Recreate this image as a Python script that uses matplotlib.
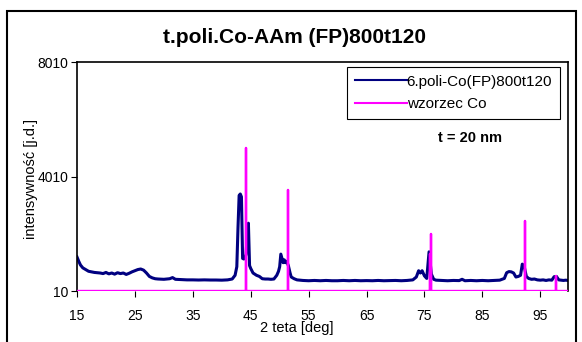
import numpy as np
import matplotlib.pyplot as plt
from matplotlib.patches import Rectangle

plt.rcParams['font.family'] = ['Liberation Sans', 'DejaVu Sans']

teta = [15.0, 15.3, 15.6, 16.0, 16.5, 17.0, 17.5, 18.0, 18.5, 19.0, 19.5, 20.0, 20.5, 21.0,
        21.5, 22.0, 22.5, 23.0, 23.5, 24.0, 24.5, 25.0, 25.5, 26.0, 26.5, 27.0, 27.5, 28.0,
        28.5, 29.0, 30.0, 31.0, 31.5, 32.0, 33.0, 34.0, 35.0, 36.0, 37.0, 38.0, 39.0, 40.0,
        41.0, 41.8, 42.3, 42.6, 42.8, 43.0, 43.2, 43.4, 43.6, 43.8, 44.0, 44.2, 44.4, 44.6,
        44.8, 45.0, 45.4, 46.0, 46.5, 47.0, 47.5, 48.0, 48.5, 49.0, 49.5, 49.8, 50.0, 50.2,
        50.4, 50.6, 50.8, 51.0, 51.2, 51.5, 51.8, 52.0, 52.5, 53.0, 54.0, 55.0, 56.0, 57.0,
        58.0, 59.0, 60.0, 61.0, 62.0, 63.0, 64.0, 65.0, 66.0, 67.0, 68.0, 69.0, 70.0, 71.0,
        72.0, 73.0, 73.6, 74.0, 74.3, 74.6, 75.0, 75.4, 75.8, 76.2, 76.6, 77.0, 78.0, 79.0,
        80.0, 81.0, 81.5, 82.0, 83.0, 84.0, 85.0, 86.0, 87.0, 88.0, 88.8, 89.2, 89.6, 90.0,
        90.4, 90.8, 91.2, 91.6, 91.9, 92.2, 92.6, 93.0, 93.5, 94.0, 94.5, 95.0, 95.5, 96.0,
        96.5, 97.0, 97.4, 97.8, 98.2, 98.6, 99.0, 99.4, 99.8]
inten = [1200, 1050, 920, 820, 760, 700, 680, 660, 650, 640, 620, 660, 610, 640,
         600, 650, 620, 640, 590, 630, 680, 720, 760, 780, 740, 640, 520, 470,
         440, 430, 420, 440, 480, 420, 410, 400, 400, 395, 400, 395, 395, 390,
         400, 430, 560, 860, 2200, 3350, 3400, 3300, 1150, 1130, 1150, 1300, 2000, 2380,
         900, 800, 640, 560, 520, 440, 430, 430, 420, 430, 560, 700, 860, 1300,
         1150, 1000, 1100, 1000, 1050, 900, 640, 500, 440, 400, 380, 370, 380, 370,
         380, 370, 370, 380, 370, 380, 370, 375, 370, 380, 370, 375, 380, 370,
         380, 400, 500, 720, 640, 720, 540, 450, 1380, 600, 420, 390, 380, 370,
         380, 375, 420, 370, 380, 370, 380, 370, 380, 390, 450, 650, 690, 680,
         640, 500, 520, 560, 950, 900, 520, 450, 420, 430, 400, 390, 400, 380,
         400, 390, 510, 520, 400, 390, 380, 390, 380]

# reference lines (wzorzec Co)
co_pos = [44.2, 51.5, 75.9, 76.1, 92.3, 97.7]
co_int = [5000, 3540, 1300, 2000, 2470, 520]

fig = plt.figure(figsize=(5.82, 3.42), dpi=100)
ax = fig.add_axes([0.1323, 0.149, 0.8437, 0.6697])

# stick pattern drawn as one line along the baseline
px, py = [15.0], [10]
for p, h in zip(co_pos, co_int):
    px += [p, p, p]
    py += [10, h, 10]
px.append(100.0)
py.append(10)

ax.plot(teta, inten, color='#000080', lw=2.2, label='6.poli-Co(FP)800t120', zorder=2)
ax.plot(px, py, color='#FF00FF', lw=1.7, label='wzorzec Co', zorder=3)

ax.set_xlim(15, 99.8)
ax.set_ylim(10, 8010)
ax.set_xticks([15, 25, 35, 45, 55, 65, 75, 85, 95])
ax.set_yticks([10, 4010, 8010])
ax.tick_params(axis='both', labelsize=10, length=4, width=0.8, direction='out', pad=2)
ax.tick_params(axis='x', pad=9)
for s in ax.spines.values():
    s.set_linewidth(1.2)
ax.spines['bottom'].set_visible(False)

ax.set_xlabel('2 teta [deg]', fontsize=10.5)
ax.xaxis.set_label_coords(0.448, -0.13)
ax.set_ylabel('intensywność [j.d.]', fontsize=10.5)
ax.yaxis.set_label_coords(-0.08, 0.49)
ax.set_title('t.poli.Co-AAm (FP)800t120', fontsize=15, fontweight='bold', pad=14, x=0.442)
ax.text(0.80, 0.668, 't = 20 nm', transform=ax.transAxes, fontsize=10.5,
        fontweight='bold', ha='center', va='center')

leg = ax.legend(loc='upper left', bbox_to_anchor=(0.55, 0.978), fontsize=11,
                fancybox=False, framealpha=1, edgecolor='black', handlelength=3.4,
                labelspacing=0.55, borderpad=0.5, handletextpad=0.0, borderaxespad=0)
leg.get_frame().set_linewidth(0.8)
for ln in leg.get_lines():
    ln.set_linewidth(1.5)

fig.patches.append(Rectangle((7 / 582, -0.1), 569 / 582, 1.068, transform=fig.transFigure,
                             fill=False, edgecolor='black', lw=1.5))

fig.savefig('out.png', dpi=100)
